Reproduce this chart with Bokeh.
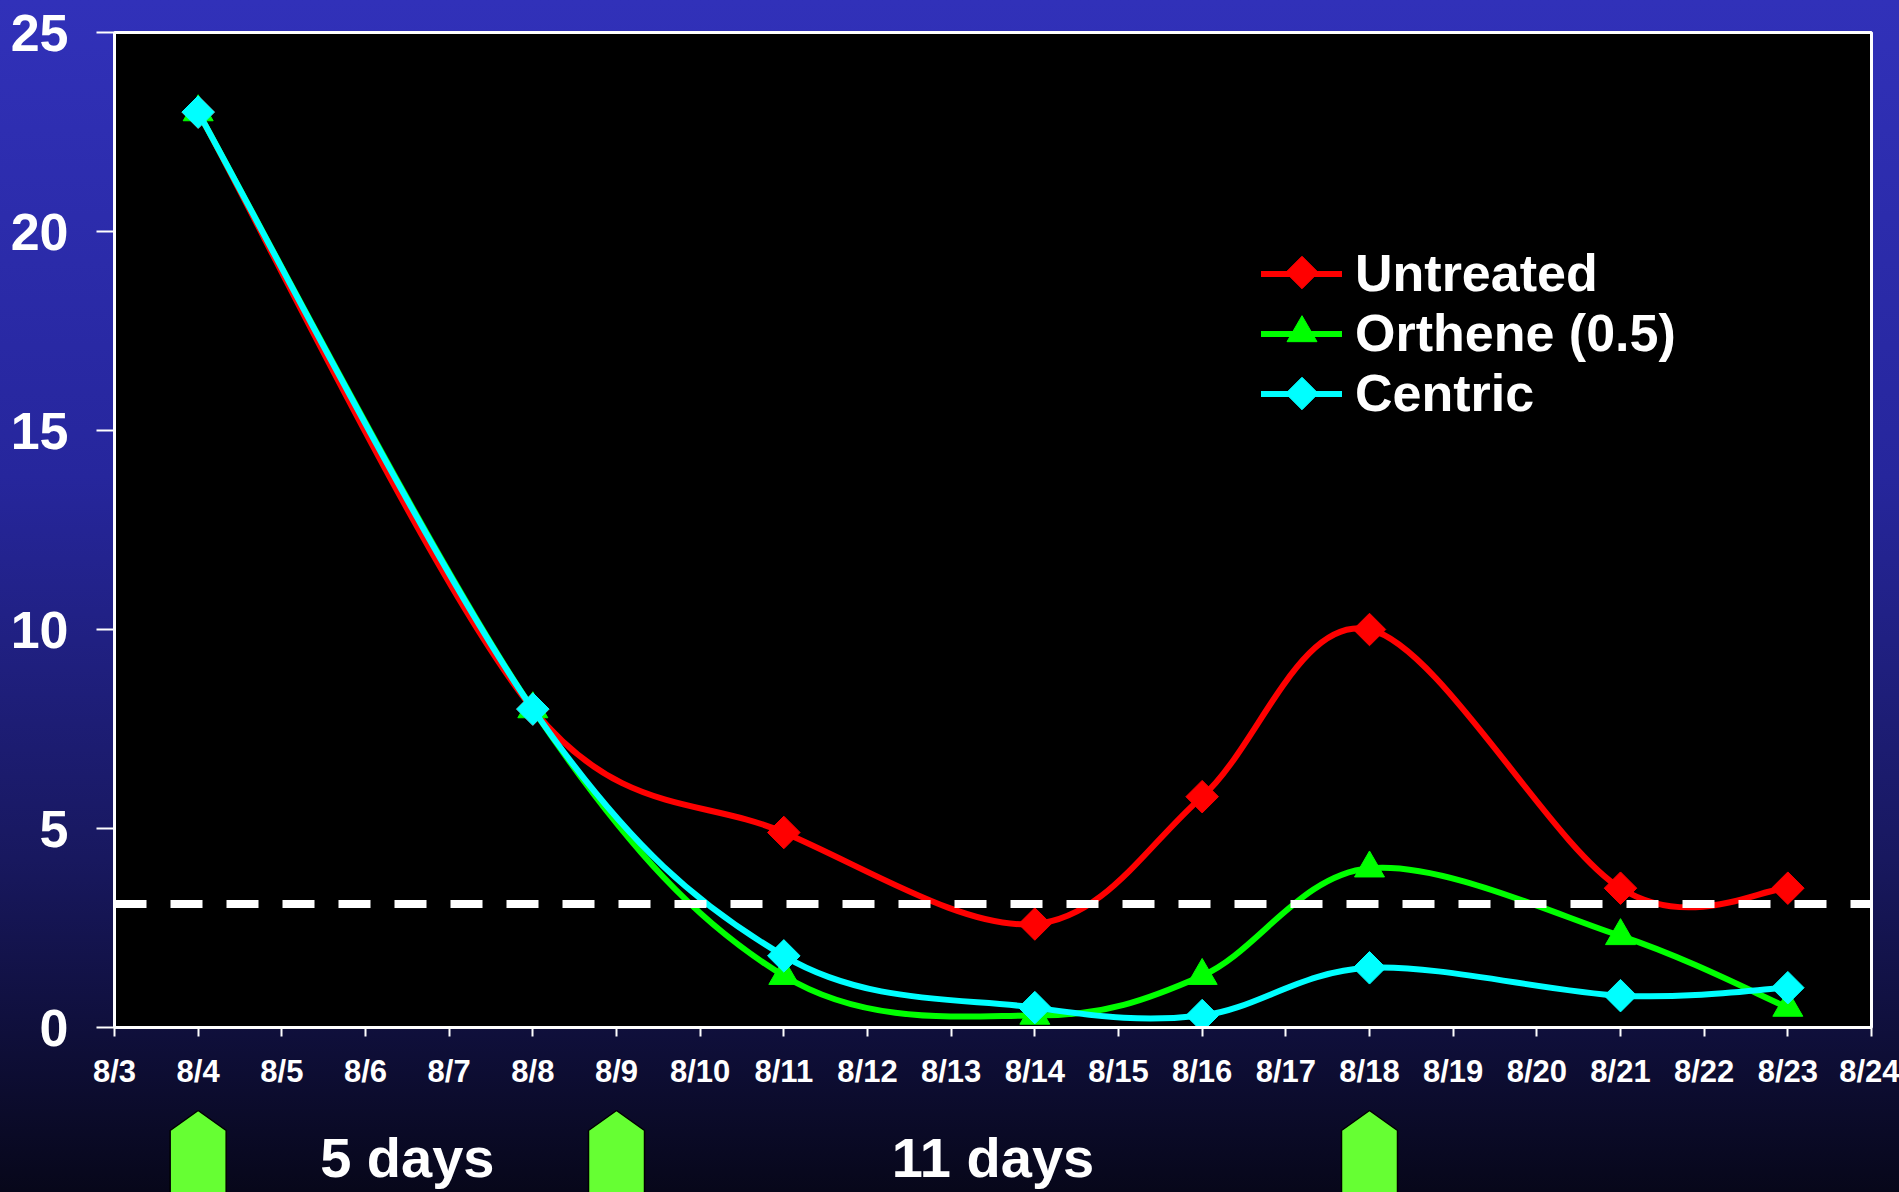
import math
from bokeh.plotting import figure
from bokeh.layouts import column
from bokeh.models import Range1d, FixedTicker, Span, Legend, LegendItem
from bokeh.core.properties import value
from bokeh.embed import file_html
from bokeh.resources import INLINE

# ---------------- data ----------------
days = [4, 8, 11, 14, 16, 18, 21, 23]
untreated = [23.0, 8.0, 4.9, 2.6, 5.8, 10.0, 3.5, 3.5]
orthene = [23.0, 8.0, 1.3, 0.3, 1.3, 4.0, 2.3, 0.5]
centric = [23.0, 8.0, 1.8, 0.5, 0.3, 1.5, 0.8, 1.0]
threshold = 3.1

tick_days = [3, 4, 5, 6, 7, 8, 9, 10, 11, 12, 13, 14, 15, 16, 17, 18, 19, 20, 21, 22, 23, 24]
tick_labels = ["8/3", "8/4", "8/5", "8/6", "8/7", "8/8", "8/9", "8/10", "8/11", "8/12", "8/13",
               "8/14", "8/15", "8/16", "8/17", "8/18", "8/19", "8/20", "8/21", "8/22", "8/23", "8/24"]
y_ticks = [0, 5, 10, 15, 20, 25]

spray_days = [4, 9, 18]
interval_labels = ["5 days", "11 days"]

series_names = ["Untreated", "Orthene (0.5)", "Centric"]

# ---------------- layout ----------------
W = 1899
H_MAIN, H_LOW = 1100, 92
B_LEFT, B_RIGHT, B_TOP, B_BOTTOM = 114, 28, 32, 73
FONT = "Liberation Sans"
GRAD = "linear-gradient(to bottom, #3131B9 0%, #26269C 40%, #18185F 72%, #07071A 100%)"

x0, x1 = tick_days[0], tick_days[-1]
y0, y1 = y_ticks[0], y_ticks[-1]
frame_w = W - B_LEFT - B_RIGHT
frame_h = H_MAIN - B_TOP - B_BOTTOM
sx = frame_w / (x1 - x0)   # px per day
sy = frame_h / (y1 - y0)   # px per unit

p = figure(width=W, height=H_MAIN, output_backend="svg", toolbar_location=None,
           x_range=Range1d(x0, x1), y_range=Range1d(y0, y1),
           min_border_left=B_LEFT, min_border_right=B_RIGHT,
           min_border_top=B_TOP, min_border_bottom=B_BOTTOM)
p.styles = {"background": GRAD,
            "background-size": f"100% {H_MAIN + H_LOW}px",
            "background-position": "0px 0px"}
p.border_fill_color = None
p.background_fill_color = "black"
p.outline_line_color = "white"
p.outline_line_width = 3
p.grid.visible = False

# axes
p.xaxis.ticker = FixedTicker(ticks=tick_days)
p.xaxis.major_label_overrides = {d: lab for d, lab in zip(tick_days, tick_labels)}
p.yaxis.ticker = FixedTicker(ticks=y_ticks)
for ax in (p.xaxis, p.yaxis):
    ax.axis_line_color = "white"
    ax.axis_line_width = 3
    ax.major_tick_line_color = "white"
    ax.major_tick_line_width = 2
    ax.minor_tick_line_color = None
    ax.major_tick_in = 0
    ax.major_label_text_color = "white"
    ax.major_label_text_font = FONT
    ax.major_label_text_font_style = "bold"
p.xaxis.major_tick_out = 9
p.xaxis.major_label_standoff = 17
p.xaxis.major_label_text_font_size = "31px"
p.yaxis.major_tick_out = 18
p.yaxis.major_label_standoff = 28
p.yaxis.major_label_text_font_size = "52px"


def smooth_segments(xs, ys):
    """Excel-like smoothed curve: cubic Bezier control points per segment."""
    P = [(x * sx, y * sy) for x, y in zip(xs, ys)]
    n = len(P)
    out = {k: [] for k in ("x0", "y0", "x1", "y1", "cx0", "cy0", "cx1", "cy1")}

    def dist(a, b):
        return math.hypot(a[0] - b[0], a[1] - b[1])

    for i in range(n - 1):
        p0 = P[i - 1] if i > 0 else P[i]
        p1, p2 = P[i], P[i + 1]
        p3 = P[i + 2] if i + 2 < n else P[i + 1]
        d12 = dist(p1, p2)
        d02 = dist(p0, p2)
        d13 = dist(p1, p3)
        f1 = 1 / 6 if d02 / 6 < d12 / 2 else d12 / (2 * d02)
        f2 = 1 / 6 if d13 / 6 < d12 / 2 else d12 / (2 * d13)
        c1 = (p1[0] + f1 * (p2[0] - p0[0]), p1[1] + f1 * (p2[1] - p0[1]))
        c2 = (p2[0] - f2 * (p3[0] - p1[0]), p2[1] - f2 * (p3[1] - p1[1]))
        out["x0"].append(p1[0] / sx); out["y0"].append(p1[1] / sy)
        out["x1"].append(p2[0] / sx); out["y1"].append(p2[1] / sy)
        out["cx0"].append(c1[0] / sx); out["cy0"].append(c1[1] / sy)
        out["cx1"].append(c2[0] / sx); out["cy1"].append(c2[1] / sy)
    return out


styles = [
    (untreated, "#FF0000", "square", 23, math.pi / 4),
    (orthene, "#00FF00", "triangle", 30, 0.0),
    (centric, "#00FFFF", "square", 23, math.pi / 4),
]

# legend geometry (pixels, relative to the frame)
LEG_X = 1147          # glyph column left edge from frame left
ROW = 60.5            # legend row height
LEG_ROW1 = 240        # centre of first row, px below frame top
GLYPH_W = 81
leg_bottom_from_frame_bottom = frame_h - (LEG_ROW1 - ROW / 2 + 3 * ROW)

items = []
for i, (name, (vals, color, marker, size, ang)) in enumerate(zip(series_names, styles)):
    seg = smooth_segments(days, vals)
    curve = p.bezier(x0=seg["x0"], y0=seg["y0"], x1=seg["x1"], y1=seg["y1"],
                     cx0=seg["cx0"], cy0=seg["cy0"], cx1=seg["cx1"], cy1=seg["cy1"],
                     line_color=color, line_width=6, line_cap="round")
    p.scatter(x=days, y=vals, marker=marker, size=size, angle=ang,
              fill_color=color, line_color=color, line_width=1)
    # legend symbol (rotated markers are not supported by Legend itself)
    lx = x0 + (LEG_X + GLYPH_W / 2) / sx
    ly = y1 - (LEG_ROW1 + i * ROW) / sy
    p.scatter(x=[lx], y=[ly], marker=marker, size=size, angle=ang,
              fill_color=color, line_color=color, line_width=1, level="overlay")
    items.append(LegendItem(label=name, renderers=[curve]))

# threshold line
p.add_layout(Span(location=threshold, dimension="width", line_color="white",
                  line_width=8, line_dash="32 24"))

legend = Legend(items=items, location=(LEG_X, leg_bottom_from_frame_bottom),
                orientation="vertical",
                background_fill_alpha=0, border_line_color=None,
                label_text_color="white", label_text_font=FONT,
                label_text_font_style="bold", label_text_font_size="52px",
                glyph_width=GLYPH_W, glyph_height=59, label_height=59,
                label_standoff=13, spacing=0, padding=0, margin=0)
p.add_layout(legend)

# ---------------- strip below the chart: spray arrows ----------------
p2 = figure(width=W, height=H_LOW, output_backend="svg", toolbar_location=None,
            x_range=p.x_range, y_range=Range1d(-H_LOW, 0),
            x_axis_type=None, y_axis_type=None,
            min_border_left=B_LEFT, min_border_right=B_RIGHT,
            min_border_top=0, min_border_bottom=0)
p2.styles = {"background": GRAD,
             "background-size": f"100% {H_MAIN + H_LOW}px",
             "background-position": f"0px -{H_MAIN}px"}
p2.border_fill_color = None
p2.background_fill_color = None
p2.outline_line_color = None
p2.grid.visible = False

half_w = 28 / sx
tip_y, shoulder_y, base_y = -10, -30, -200
p2.patches(xs=[[d - half_w, d - half_w, d, d + half_w, d + half_w] for d in spray_days],
           ys=[[base_y, shoulder_y, tip_y, shoulder_y, base_y] for _ in spray_days],
           fill_color="#66FF33", line_color="black", line_width=1.5)

mids = [(a + b) / 2 for a, b in zip(spray_days[:-1], spray_days[1:])]
p2.text(x=mids, y=[-57] * len(mids), text=interval_labels, text_align="center",
        text_baseline="middle", text_color="white", text_font=value(FONT),
        text_font_style="bold", text_font_size="56px")

layout = column(p, p2, spacing=0)
open("out.html", "w").write(file_html(layout, INLINE))
